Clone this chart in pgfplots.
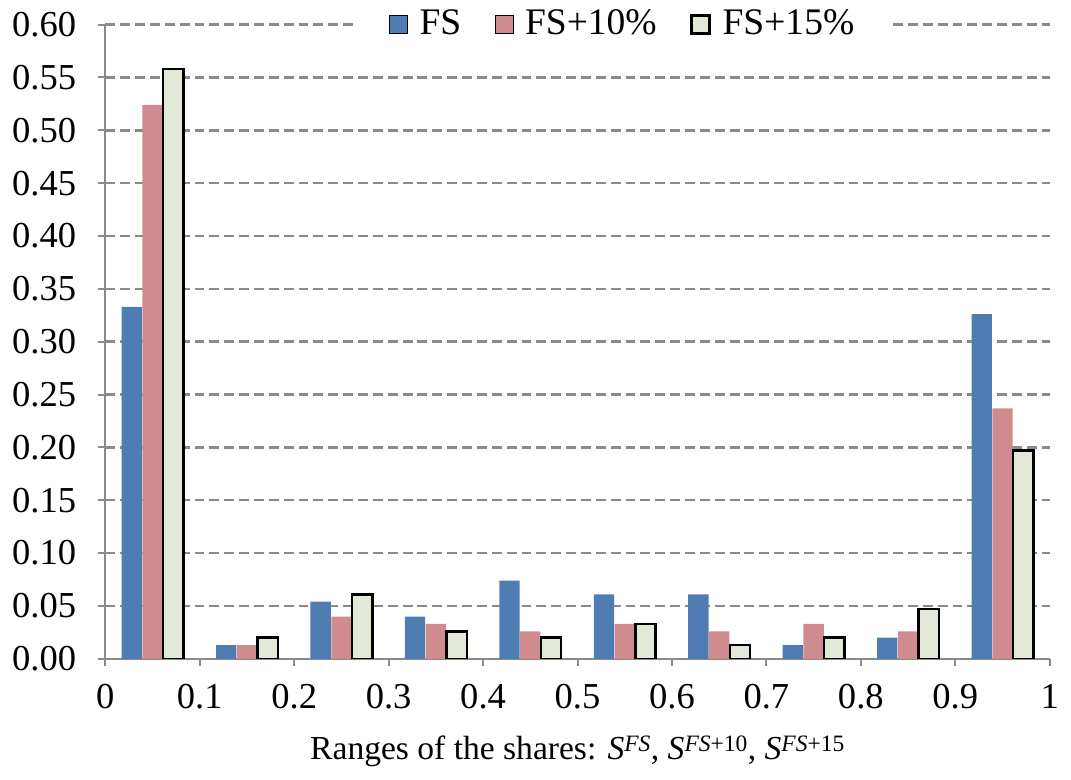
\documentclass[border=0pt]{standalone}
\usepackage{pgfplots}
\pgfplotsset{compat=1.18}
\usepackage{fontspec}
\setmainfont{Liberation Serif}
\definecolor{fsblue}{HTML}{4F7CB3}
\definecolor{fspink}{HTML}{CF8B8E}
\definecolor{fsgreen}{HTML}{E2E9D6}
\definecolor{gridgray}{HTML}{8A8A8A}
\begin{document}
\fontsize{37}{44}\selectfont
\begin{tikzpicture}
\begin{axis}[
  scale only axis,
  width=953bp, height=640bp,
  xmin=0, xmax=1, ymin=0, ymax=0.60,
  axis lines=left,
  axis line style={-, draw=gridgray, line width=2.2bp},
  xtick={0,0.1,0.2,0.3,0.4,0.5,0.6,0.7,0.8,0.9,1},
  xticklabels={0,0.1,0.2,0.3,0.4,0.5,0.6,0.7,0.8,0.9,1},
  ytick={0,0.05,...,0.601},
  yticklabel style={/pgf/number format/fixed, /pgf/number format/fixed zerofill, /pgf/number format/precision=2, /pgf/number format/assume math mode=true, xshift=-10bp},
  tick align=outside,
  major tick length=7bp,
  tick style={draw=gridgray, line width=2bp},
  ymajorgrids,
  major grid style={draw=gridgray, line width=2.5bp, dash pattern=on 10bp off 5bp},
  tick label style={font=\fontsize{37}{44}\selectfont},
  xticklabel style={yshift=-6bp},
  xlabel={Ranges of the shares: \textit{S}\textsuperscript{\textit{FS}}, \textit{S}\textsuperscript{\textit{FS}+10}, \textit{S}\textsuperscript{\textit{FS}+15}},
  xlabel style={font=\fontsize{34}{40}\selectfont, yshift=-2bp},
  ybar,
  bar width=0.0215,
  legend columns=-1,
  legend style={at={(0.548,1)}, anchor=center, draw=none, fill=white,
    font=\fontsize{38}{44}\selectfont, inner xsep=34bp, inner ysep=2bp,
    /tikz/every odd column/.append style={column sep=10bp},
    /tikz/every even column/.append style={column sep=32bp}},
  legend image code/.code={\draw[#1] (0bp,-9bp) rectangle (18bp,9bp);},
]
\addplot[fill=fsblue, draw=none, bar shift=-0.022] coordinates {
(0.05,0.333) (0.15,0.013) (0.25,0.054) (0.35,0.040) (0.45,0.074)
(0.55,0.061) (0.65,0.061) (0.75,0.013) (0.85,0.020) (0.95,0.326)};
\addlegendentry{FS}
\addplot[fill=fspink, draw=none, bar shift=0] coordinates {
(0.05,0.524) (0.15,0.013) (0.25,0.040) (0.35,0.033) (0.45,0.026)
(0.55,0.033) (0.65,0.026) (0.75,0.033) (0.85,0.026) (0.95,0.237)};
\addlegendentry{FS+10\%}
\addplot[fill=fsgreen, draw=black, line width=2.5bp, bar shift=0.022] coordinates {
(0.05,0.558) (0.15,0.020) (0.25,0.061) (0.35,0.026) (0.45,0.020)
(0.55,0.033) (0.65,0.013) (0.75,0.020) (0.85,0.047) (0.95,0.197)};
\addlegendentry{FS+15\%}
\end{axis}
\end{tikzpicture}
\end{document}
